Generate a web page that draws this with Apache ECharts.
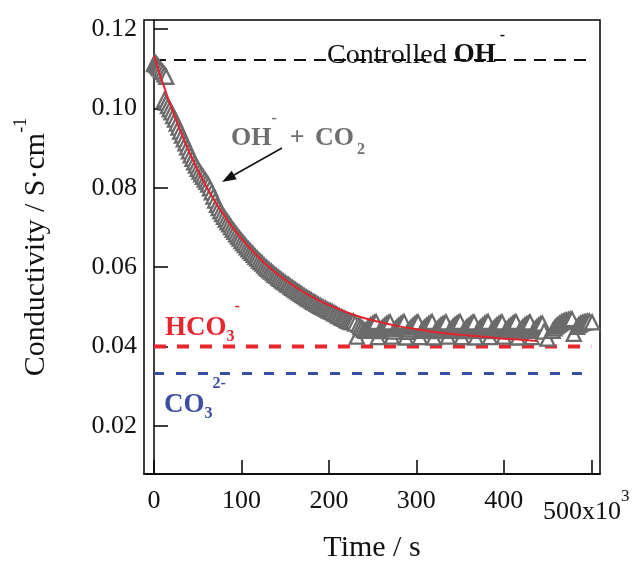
<!DOCTYPE html>
<html><head><meta charset="utf-8">
<script src="https://cdn.jsdelivr.net/npm/echarts@6/dist/echarts.min.js"></script>
<style>html,body{margin:0;padding:0;background:#fff}#c{width:638px;height:561px}</style>
</head><body><div id="c"></div>
<script>
// ---- data ----
const measTime = [0,1,2,3,4,5,6,8,10,12,14,
12,14,16,18,20,22,24,26,28,30,32,34,36,38,40,42,44,46,48,50,
52,54,56,58,60,62,64,66,68,70,72,74,76,78,80,82,84,86,88,90,92,94,96,98,100,
102,104,106,108,110,112,114,116,118,120,122,124,126,128,130,132,134,136,138,140,142,144,146,148,150,
152,154,156,158,160,162,164,166,168,170,172,174,176,178,180,182,184,186,188,190,192,194,196,198,200,
202,204,206,208,210,212,214,216,218,220,222,224,226,228,230,232,234,236,238,240,
242,244,246,248,250,252,254,256,258,260,262,264,266,268,270,272,274,276,278,280,282,284,286,288,
290,292,294,296,298,300,302,304,306,308,310,312,314,316,318,320,322,324,326,328,330,332,334,336,
338,340,342,344,346,348,350,352,354,356,358,360,362,364,366,368,370,372,374,376,378,380,382,384,
386,388,390,392,394,396,398,400,402,404,406,408,410,412,414,416,418,420,422,424,426,428,430,432,
434,436,438,440,442,444,446,450,456,458,460,462,464,466,468,470,472,474,476,478,480,484,486,488,490,492,494,496,498,501];
const measCond = [0.1112,0.1116,0.1114,0.1110,0.1108,0.1105,0.1101,0.1097,0.1092,0.1086,0.1080,
0.1022,0.1014,0.1006,0.0998,0.0990,0.0981,0.0972,0.0962,0.0952,0.0942,0.0932,0.0922,0.0912,0.0902,0.0892,0.0882,0.0873,0.0864,0.0856,0.0848,
0.0841,0.0834,0.0828,0.0821,0.0815,0.0808,0.0799,0.0789,0.0778,0.0768,0.0757,0.0749,0.0741,0.0734,0.0727,0.0720,0.0714,0.0708,0.0701,0.0695,0.0689,0.0683,0.0677,0.0672,0.0666,
0.0661,0.0656,0.0650,0.0645,0.0640,0.0636,0.0631,0.0626,0.0622,0.0617,0.0613,0.0609,0.0604,0.0600,0.0596,0.0592,0.0589,0.0585,0.0581,0.0578,0.0574,0.0571,0.0567,0.0564,0.0561,
0.0557,0.0555,0.0551,0.0548,0.0545,0.0542,0.0539,0.0536,0.0533,0.0530,0.0527,0.0524,0.0521,0.0519,0.0516,0.0513,0.0511,0.0508,0.0505,0.0503,0.0500,0.0498,0.0496,0.0493,0.0491,
0.0489,0.0487,0.0484,0.0482,0.0479,0.0477,0.0474,0.0472,0.0470,0.0467,0.0465,0.0463,0.0461,0.0464,0.0458,0.0425,0.0455,0.0450,0.0446,0.0442,
0.0440,0.0445,0.0450,0.0454,0.0457,0.0460,0.0462,0.0424, 0.0439,0.0445,0.0449,0.0453,0.0457,0.0459,0.0461,0.0425, 0.0438,0.0444,0.0449,0.0453,0.0456,0.0459,0.0462,0.0423,
0.0437,0.0443,0.0448,0.0452,0.0456,0.0459,0.0461,0.0424, 0.0440,0.0445,0.0449,0.0453,0.0456,0.0459,0.0462,0.0423, 0.0439,0.0444,0.0449,0.0453,0.0456,0.0458,0.0461,0.0425,
0.0440,0.0445,0.0450,0.0454,0.0457,0.0460,0.0462,0.0424, 0.0439,0.0444,0.0449,0.0452,0.0456,0.0459,0.0461,0.0423, 0.0440,0.0445,0.0449,0.0453,0.0457,0.0460,0.0462,0.0424,
0.0439,0.0444,0.0449,0.0453,0.0456,0.0459,0.0461,0.0425, 0.0440,0.0445,0.0450,0.0453,0.0457,0.0460,0.0462,0.0423, 0.0439,0.0444,0.0449,0.0453,0.0456,0.0458,0.0461,0.0424,
0.0440,0.0445,0.0449,0.0453,0.0456,0.0458,0.0438,0.0420,0.0440,0.0446,0.0451,0.0455,0.0458,0.0461,0.0463,0.0465,0.0466,0.0467,0.0468,0.0469,0.0432,0.0450,0.0455,0.0458,0.0460,0.0461,0.0462,0.0463,0.0463,0.0461];
const fitTime = [0,10,20,30,40,50,60,70,80,90,100,120,140,160,180,200,220,240,260,280,300,320,340,360,380,400,420,438];
const fitCond = [0.1133,0.1065,0.1002,0.0945,0.0892,0.0845,0.0803,0.0765,0.0731,0.0700,0.0672,0.0624,0.0585,0.0553,0.0526,0.0505,0.0487,0.0472,0.0461,0.0451,0.0444,0.0437,0.0432,0.0428,0.0424,0.0420,0.0417,0.0414];
const refSpan = [0, 500];
const refOH = 0.1122, refHCO3 = 0.0400, refCO3 = 0.0332;
const xTicks = [0,100,200,300,400,500];
const yTicks = [0.02,0.04,0.06,0.08,0.10,0.12];

const F = 'Liberation Serif';
const chart = echarts.init(document.getElementById('c'), null, {renderer:'canvas'});
const refLine = (v, color, w, dash) => ({
  type:'line', data: refSpan.map(t => [t, v]), symbol:'none', silent:true,
  lineStyle:{color, width:w, type:dash}, z:2
});
const tok = (size, weight, color, pad, lh, padL) => ({fontSize:size, fontFamily:F, fontWeight:weight, fill:color, color,
  lineHeight:lh, padding:[pad,0,0,padL||0], verticalAlign:'top'});
function ionRich(color){
  return {
    m: tok(27, 'bold', color, 16, 30),
    sup: tok(16, 'bold', color, 0, 16),
    sub: tok(16, 'bold', color, 30, 16)
  };
}
chart.setOption({
  animation:false,
  grid:{left:144, right:38, top:20, bottom:87, outerBoundsMode:'none', containLabel:false,
        show:true, borderColor:'#000', borderWidth:1.5, backgroundColor:'transparent'},
  xAxis:{type:'value', min:-11.4, max:510,
    name:'Time / s', nameLocation:'middle', nameGap:59,
    nameTextStyle:{fontFamily:F, fontSize:30, color:'#111'},
    axisLine:{show:true, lineStyle:{color:'#000', width:1.5}},
    axisTick:{show:true, inside:true, length:14, customValues:xTicks, lineStyle:{color:'#000', width:1.5}},
    splitLine:{show:false},
    axisLabel:{customValues:xTicks, margin:14, fontFamily:F, fontSize:26, lineHeight:26, color:'#111',
      formatter: v => v === 500 ? '{a|500x10}{s|3}' : String(v),
      rich:{a:{fontFamily:F, fontSize:26, lineHeight:26, padding:[11,0,0,0], verticalAlign:'top', color:'#111'},
            s:{fontFamily:F, fontSize:17, lineHeight:17, padding:[0,10,0,0], verticalAlign:'top', color:'#111'}}}
  },
  yAxis:{type:'value', min:0.0079, max:0.1223,
    name:'{m|Conductivity / S·cm}{s|-1}', nameLocation:'middle', nameGap:102,
    nameTextStyle:{fontFamily:F, fontSize:30, color:'#111',
      rich:{m:{fontFamily:F, fontSize:30, lineHeight:30, padding:[9,0,0,0], verticalAlign:'top', color:'#111'},
            s:{fontFamily:F, fontSize:18, lineHeight:18, verticalAlign:'top', color:'#111'}}},
    axisLine:{show:true, lineStyle:{color:'#000', width:1.5}},
    axisTick:{show:true, inside:true, length:14, customValues:yTicks, lineStyle:{color:'#000', width:1.5}},
    splitLine:{show:false},
    axisLabel:{customValues:yTicks, margin:7, fontFamily:F, fontSize:26, color:'#111', formatter: v => v.toFixed(2)}
  },
  series:[
    refLine(refOH, '#111', 2, [12, 8]),
    refLine(refHCO3, '#e8262c', 4, [12, 11]),
    refLine(refCO3, '#3a4ea2', 3, [10, 12]),
    {type:'scatter', data: measTime.map((t,i)=>[t, measCond[i]]), symbol:'triangle', symbolSize:14,
     itemStyle:{color:'#fff', borderColor:'#6b6b6b', borderWidth:2.3, opacity:1}, z:3},
    {type:'line', data: fitTime.map((t,i)=>[t, fitCond[i]]), smooth:true, symbol:'none',
     lineStyle:{color:'#e3232b', width:2}, z:4}
  ],
  graphic:[
    {type:'text', x:327, y:25.5, z:10, style:{text:'{r|Controlled }{m|OH}{sup|-}', align:'left', verticalAlign:'top',
      rich:{r:tok(28,'normal','#111',16,30), m:tok(27,'bold','#111',16,30), sup:tok(16,'bold','#111',2,16,4)}}},
    {type:'text', x:231, y:111, z:10, style:{text:'{m|OH}{sup|-}{m|  + }{c|CO}{sub|2}', align:'left', verticalAlign:'top',
      rich:{m:tok(26,'bold','#6e6e6e',14.5,30), c:tok(26,'bold','#6e6e6e',14.5,30,4), sup:tok(16,'bold','#6e6e6e',0,16), sub:tok(16,'bold','#6e6e6e',31,16,3)}}},
    {type:'text', x:165, y:299, z:10, style:{text:'{m|HCO}{sub|3}{sup|-}', align:'left', verticalAlign:'top', rich:ionRich('#e8262c')}},
    {type:'text', x:164, y:375.5, z:10, style:{text:'{m|CO}{sub|3}{sup|2-}', align:'left', verticalAlign:'top', rich:ionRich('#3a4ea2')}},
    {type:'line', z:10, shape:{x1:282, y1:148, x2:234, y2:175}, style:{stroke:'#111', lineWidth:1.5}},
    {type:'polygon', z:10, shape:{points:[[222,182],[236.7,179.3],[231.7,170.7]]}, style:{fill:'#111'}}
  ]
});
</script></body></html>
